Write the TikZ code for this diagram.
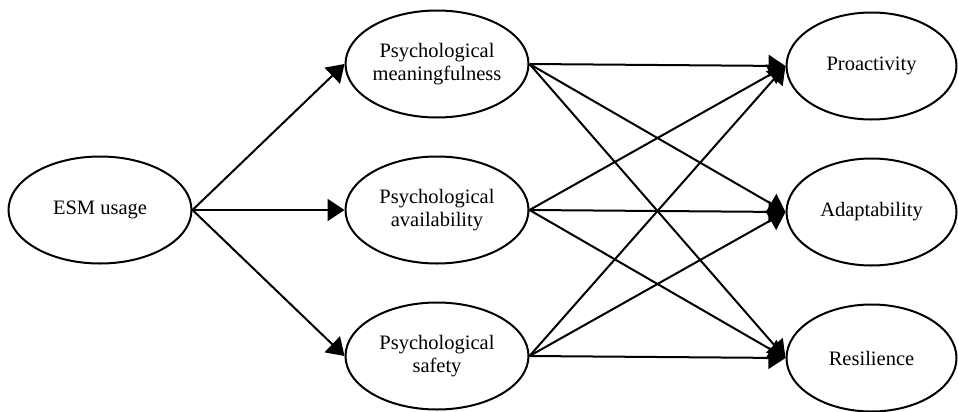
\documentclass[tikz,border=0pt]{standalone}
\usepackage{fontspec}
\setmainfont{Liberation Serif}
\usepackage{tikz}
\usetikzlibrary{shapes,arrows.meta}
\newcommand{\constructnode}[4] {\node at (#1) (#2) [ellipse, draw, line width=1pt, inner sep=0pt, minimum width=#3, minimum height=53.5pt, align=center, font=\fontsize{10.25}{11.8}\selectfont] {#4};}
\newcommand{\pathlink}[2] {\draw [-{Triangle[length=8.5pt, width=11pt]}, line width=1pt] (#1.east) -- (#2.west);}

\begin{document}
\begin{tikzpicture}[x=0.5pt, y=-0.5pt]
\useasboundingbox (0,0) rectangle (958,412);

\constructnode {100,210}{esm}{91.5pt}{ESM usage};
\constructnode {437,64}{mean}{91.5pt}{Psychological\\meaningfulness};
\constructnode {437,210}{avail}{91.5pt}{Psychological\\availability};
\constructnode {437,356}{safe}{91.5pt}{Psychological\\safety};
\constructnode {871.5,66}{proact}{85pt}{Proactivity};
\constructnode {871.5,212}{adapt}{85pt}{Adaptability};
\constructnode {871.5,358}{resil}{85pt}{Resilience};

\pathlink{esm}{mean};
\pathlink{esm}{avail};
\pathlink{esm}{safe};
\pathlink{mean}{proact};
\pathlink{mean}{adapt};
\pathlink{mean}{resil};
\pathlink{avail}{proact};
\pathlink{avail}{adapt};
\pathlink{avail}{resil};
\pathlink{safe}{proact};
\pathlink{safe}{adapt};
\pathlink{safe}{resil};
\end{tikzpicture}
\end{document}
